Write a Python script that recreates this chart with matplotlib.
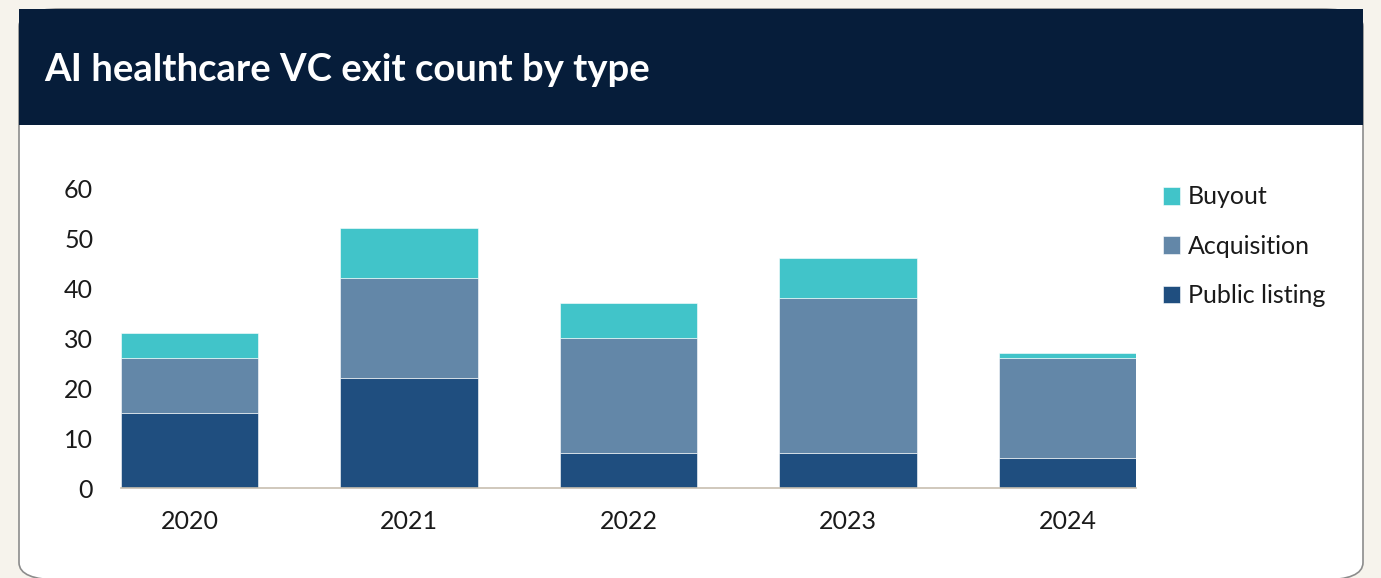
import matplotlib
matplotlib.use("Agg")
import matplotlib.pyplot as plt
from matplotlib.patches import FancyBboxPatch, Rectangle
import numpy as np

# data
years = ["2020", "2021", "2022", "2023", "2024"]
public_listing = [15, 22, 7, 7, 6]
acquisition = [11, 20, 23, 31, 20]
buyout = [5, 10, 7, 8, 1]

col_public = "#1F4E7F"
col_acq = "#6387A8"
col_buyout = "#41C4C9"

W, H = 1381, 578
fig = plt.figure(figsize=(W / 100, H / 100), dpi=100)
fig.patch.set_facecolor("#F6F3EC")

def fx(px):
    return px / W

def fy(py):
    return 1 - py / H

# white card with rounded bottom corners
card = FancyBboxPatch((fx(19), fy(580)), fx(1363) - fx(19), fy(9) - fy(580),
                      boxstyle="round,pad=0,rounding_size=0.03",
                      transform=fig.transFigure, facecolor="white",
                      edgecolor="#8C8C8C", linewidth=1.2, zorder=0)
fig.patches.append(card)
# navy header band
header = Rectangle((fx(19), fy(125)), fx(1363) - fx(19), fy(9) - fy(125),
                   transform=fig.transFigure, facecolor="#061D3A",
                   edgecolor="none", zorder=1)
fig.patches.append(header)

fig.text(fx(44), fy(70), "AI healthcare VC exit count by type", color="white",
         fontsize=27.5, fontweight="bold", family="Lato", va="center", ha="left",
         zorder=3)

ax = fig.add_axes([fx(121), fy(488), fx(1136) - fx(121), fy(188) - fy(488)])
ax.set_facecolor("none")
ax.set_zorder(5)

x = np.arange(len(years))
w = 0.625
b1 = np.array(public_listing)
b2 = b1 + np.array(acquisition)
ax.bar(x, public_listing, w, color=col_public, edgecolor="white", linewidth=0.4, label="Public listing")
ax.bar(x, acquisition, w, bottom=b1, color=col_acq, edgecolor="white", linewidth=0.4, label="Acquisition")
ax.bar(x, buyout, w, bottom=b2, color=col_buyout, edgecolor="white", linewidth=0.4, label="Buyout")

ax.set_xlim(-w / 2, len(years) - 1 + w / 2)
ax.set_ylim(0, 60)
ax.set_yticks(range(0, 61, 10))
ax.set_xticks(x)
ax.set_xticklabels(years)
for s in ["top", "right", "left"]:
    ax.spines[s].set_visible(False)
ax.spines["bottom"].set_color("#C8BFB0")
ax.spines["bottom"].set_linewidth(1.2)
ax.tick_params(axis="both", length=0, labelsize=18, colors="#1A1A1A")
ax.tick_params(axis="x", pad=16)
ax.tick_params(axis="y", pad=20)
for lbl in ax.get_xticklabels() + ax.get_yticklabels():
    lbl.set_family("Lato")

# legend
handles, labels = ax.get_legend_handles_labels()
leg = fig.legend(handles[::-1], labels[::-1], loc="upper left",
                 bbox_to_anchor=(fx(1140), fy(163)), frameon=False,
                 prop={"family": "Lato", "size": 18},
                 handlelength=0.7, handleheight=0.7, handletextpad=0.3,
                 labelspacing=1.05)
for t in leg.get_texts():
    t.set_color("#1A1A1A")
leg.set_zorder(6)

fig.savefig("out.png", dpi=100, facecolor=fig.get_facecolor())
